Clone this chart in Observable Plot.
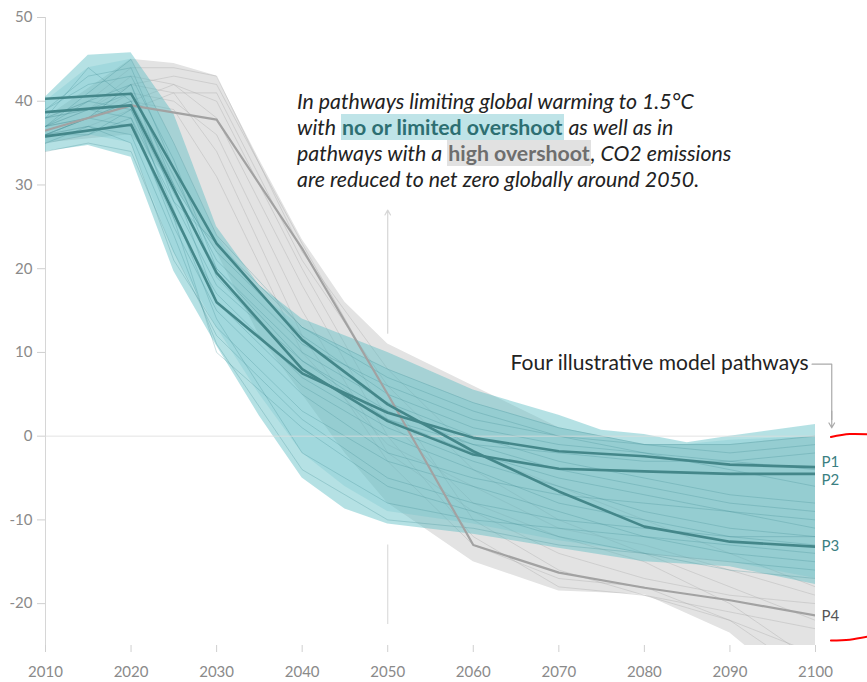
<!DOCTYPE html>
<html><head><meta charset="utf-8">
<script src="https://cdn.jsdelivr.net/npm/d3@7"></script>
<script src="https://cdn.jsdelivr.net/npm/@observablehq/plot@0.6"></script>
<style>
body{margin:0;background:#fff;font-family:Lato,"Noto Sans",sans-serif;}
#wrap{position:relative;width:867px;height:682px;overflow:hidden;}
#note{position:absolute;left:297px;top:88px;font-style:italic;font-size:21.3px;line-height:26px;color:#222;white-space:nowrap;}
.hl1{font-style:normal;font-weight:bold;color:#2d6f72;background:#bfe4e8;padding:0 1px;}
.hl2{font-style:normal;font-weight:bold;color:#6e6e6e;background:#e1e1e1;padding:0 1px;}
</style></head>
<body>
<div id="wrap"></div>
<script>
// ---------- data ----------
const xTicks = [2010, 2020, 2030, 2040, 2050, 2060, 2070, 2080, 2090, 2100];
const yTicks = [-20, -10, 0, 10, 20, 30, 40, 50];

// illustrative pathways
const pathYears = [2010, 2020, 2030, 2040, 2050, 2060, 2070, 2080, 2090, 2100];
const P1 = [35.8, 37.2, 16.0, 7.5, 2.8, -0.2, -1.8, -2.4, -3.4, -3.7];
const P2 = [38.7, 39.5, 19.5, 8.0, 1.8, -2.2, -3.9, -4.2, -4.5, -4.5];
const P3 = [40.3, 40.9, 23.0, 11.5, 3.8, -1.8, -6.6, -10.8, -12.6, -13.2];
const P4 = [36.5, 39.5, 37.8, 22.4, 5.0, -13.0, -16.3, -18.1, -19.6, -21.4];
const pathLabels = ["P1", "P2", "P3", "P4"];

// ranges
const tealYears = [2010, 2015, 2020, 2025, 2030, 2035, 2040, 2045, 2050, 2060, 2070, 2075, 2080, 2085, 2090, 2100];
const tealOuterHi = [40.5, 45.5, 45.8, 38.5, 25.0, 18.0, 14.0, 12.0, 10.0, 5.5, 2.5, 0.7, 0.2, -0.8, 0.0, 1.4];
const tealOuterLo = [34.0, 34.7, 33.3, 19.7, 10.8, 2.4, -5.0, -8.7, -10.5, -11.7, -13.4, -14.2, -15.0, -15.3, -15.6, -17.7];
const tealInnerHi = [40.0, 44.0, 45.0, 35.0, 24.0, 17.0, 13.0, 10.5, 8.0, 4.0, 1.0, 0.0, -1.0, -1.0, -0.5, 0.0];
const tealInnerLo = [35.0, 36.0, 35.0, 22.0, 13.0, 5.0, -2.0, -6.0, -9.0, -10.5, -12.5, -13.2, -14.0, -14.5, -15.0, -17.0];

const grayYears = [2010, 2020, 2025, 2030, 2035, 2040, 2045, 2050, 2060, 2070, 2080, 2090, 2100];
const grayHi = [38.0, 45.0, 44.5, 43.0, 33.0, 23.5, 16.0, 11.0, 6.0, 1.0, -1.0, -1.0, 0.0];
const grayLo = [35.0, 36.0, 30.0, 22.0, 12.0, 5.0, -2.0, -8.0, -15.0, -18.5, -18.9, -23.5, -32.0];

// individual model runs
const runYears = [2010, 2015, 2020, 2025, 2030, 2040, 2050, 2060, 2070, 2080, 2090, 2100];
const tealRuns = [
  [38, 44, 40, 30, 22, 12, 5, 1, -1, -2, -3, -4],
  [37, 41, 45, 35, 24, 13, 8, 4, 1, -1, -2, -1],
  [36, 38, 42, 28, 18, 9, 3, -1, -4, -6, -8, -9],
  [35, 36, 38, 25, 15, 5, -2, -5, -7, -8, -9, -10],
  [39, 42, 43, 33, 20, 10, 4, 0, -3, -5, -7, -8],
  [34, 35, 34, 22, 12, 2, -5, -8, -10, -11, -12, -12],
  [37, 40, 39, 27, 14, -2, -8, -10, -11, -12, -13, -14],
  [36, 37, 36, 24, 11, -4, -10, -11, -13, -14, -15, -16],
  [38, 39, 41, 31, 21, 11, 6, 2, 0, -1, -1, 0],
  [37, 38, 37, 26, 17, 7, 1, -3, -6, -9, -11, -12],
  [39, 43, 44, 32, 19, 8, 2, -2, -5, -7, -9, -11],
  [35, 37, 35, 21, 13, 3, -3, -6, -9, -12, -14, -15],
  [36, 36, 39, 29, 20, 9, 2, -1, -2, -3, -3, -2],
  [38, 40, 42, 30, 16, 6, 0, -4, -8, -10, -12, -13],
  [37, 39, 38, 28, 23, 13, 7, 3, 0, -2, -4, -6],
  [36, 38, 40, 26, 10, 1, -6, -9, -12, -14, -16, -17]
];
const grayRuns = [
  [37, 38, 42, 43, 42, 23, 5, -10, -16, -19, -22, -26],
  [36, 38, 40, 42, 40, 20, 2, -8, -12, -15, -20, -27],
  [38, 39, 43, 42, 38, 18, 0, -12, -18, -19, -21, -23],
  [37, 38, 41, 40, 36, 15, -2, -9, -14, -17, -19, -20],
  [36, 37, 39, 41, 41, 21, 6, -4, -10, -14, -18, -22],
  [38, 40, 44, 44, 43, 22, 8, -2, -6, -10, -14, -18],
  [37, 39, 42, 41, 34, 12, -3, -13, -17, -18, -22, -29],
  [36, 38, 40, 39, 31, 10, -1, -6, -11, -13, -16, -19]
];

// hand-drawn red marks at the right edge
const redTopX = [2101.8, 2104.0, 2106.3];
const redTopY = [-0.1, 0.25, 0.2];
const redBotX = [2101.8, 2104.0, 2106.3];
const redBotY = [-24.4, -24.3, -23.9];

// ---------- tables ----------
const band = (years, lo, hi) => years.map((x, i) => ({x, y1: lo[i], y2: hi[i]}));
const runs = (list) => list.flatMap((r, k) => r.map((y, i) => ({x: runYears[i], y, k})));
const path = (vals, name) => vals.map((y, i) => ({x: pathYears[i], y, name}));
const paths = [P1, P2, P3, P4];
const ends = paths.map((p, i) => ({x: 2100, y: p[p.length - 1], label: pathLabels[i]}));
const arc = (xs, ys) => xs.map((x, i) => ({x, y: ys[i]}));

const teal = "#5bbcc4";
const tealDark = "#44878a";
const nudge = [-5, 6, -1, 1];

const plot = Plot.plot({
  width: 867, height: 682,
  marginLeft: 45, marginRight: 52, marginTop: 17, marginBottom: 37,
  style: {fontFamily: "Lato, 'Noto Sans', sans-serif", fontSize: "15px", background: "white", overflow: "visible"},
  x: {domain: [2010, 2100], label: null},
  y: {domain: [-25, 50], label: null},
  marks: [
    Plot.ruleX([2010], {y1: -25, y2: 50, stroke: "#d6d6d6"}),
    Plot.axisY({ticks: yTicks, tickFormat: d => String(d), tickSize: 8, tickPadding: 5, stroke: "#cfcfcf", fill: "#8a8a8a", fontSize: 15, label: null}),
    Plot.axisX({ticks: xTicks, tickFormat: d => String(d), tickSize: 7, tickPadding: 14, stroke: "#cfcfcf", fill: "#8a8a8a", fontSize: 15, label: null}),
    Plot.ruleX([2050], {y1: -22.5, y2: -13, stroke: "#dcdcdc", strokeWidth: 1.2}),
    Plot.arrow([{}], {x1: 2050, x2: 2050, y1: 12.3, y2: 27, stroke: "#d6d6d6", strokeWidth: 1.2, headLength: 7}),
    Plot.areaY(band(grayYears, grayLo, grayHi), {x: "x", y1: "y1", y2: "y2", fill: "#e3e3e3", clip: true}),
    Plot.line(runs(grayRuns), {x: "x", y: "y", z: "k", stroke: "#a8a8a8", strokeOpacity: 0.45, strokeWidth: 0.8, clip: true}),
    Plot.areaY(band(tealYears, tealOuterLo, tealOuterHi), {x: "x", y1: "y1", y2: "y2", fill: teal, fillOpacity: 0.45, clip: true}),
    Plot.areaY(band(tealYears, tealInnerLo, tealInnerHi), {x: "x", y1: "y1", y2: "y2", fill: teal, fillOpacity: 0.22, clip: true}),
    Plot.line(runs(tealRuns), {x: "x", y: "y", z: "k", stroke: "#3f8c90", strokeOpacity: 0.35, strokeWidth: 0.8, clip: true}),
    Plot.ruleY([0], {x1: 2010, x2: 2100, stroke: "#dcdcdc", strokeOpacity: 0.8}),
    Plot.line(path(P4, "P4"), {x: "x", y: "y", stroke: "#a2a2a2", strokeWidth: 2.2, clip: true}),
    ...[P1, P2, P3].map((p, i) => Plot.line(path(p, pathLabels[i]), {x: "x", y: "y", stroke: tealDark, strokeWidth: 2.6, clip: true})),
    ...ends.map((e, i) => Plot.text([e], {x: "x", y: "y", text: "label", dx: 6, dy: nudge[i], textAnchor: "start", fontSize: 15, fill: i < 3 ? "#3b7f82" : "#555"})),
    Plot.text(["Four illustrative model pathways"], {x: 2099.2, y: 8.7, textAnchor: "end", fontSize: 21, fill: "#222"}),
    Plot.line([{x: 2099.6, y: 8.6}, {x: 2101.9, y: 8.6}, {x: 2101.9, y: 2.0}], {x: "x", y: "y", stroke: "#aaa", strokeWidth: 1.2}),
    Plot.arrow([{}], {x1: 2101.9, x2: 2101.9, y1: 3, y2: 1.0, stroke: "#aaa", strokeWidth: 1.2, headLength: 8}),
    Plot.line(arc(redTopX, redTopY), {x: "x", y: "y", stroke: "red", strokeWidth: 2, curve: "natural"}),
    Plot.line(arc(redBotX, redBotY), {x: "x", y: "y", stroke: "red", strokeWidth: 2, curve: "natural"})
  ]
});

const wrap = document.getElementById("wrap");
wrap.appendChild(plot);
const note = document.createElement("div");
note.id = "note";
note.innerHTML = 'In pathways limiting global warming to 1.5°C<br>with <span class="hl1">no or limited overshoot</span> as well as in<br>pathways with a <span class="hl2">high overshoot</span>, CO2 emissions<br>are reduced to net zero globally around 2050.';
wrap.appendChild(note);
</script>
</body></html>
